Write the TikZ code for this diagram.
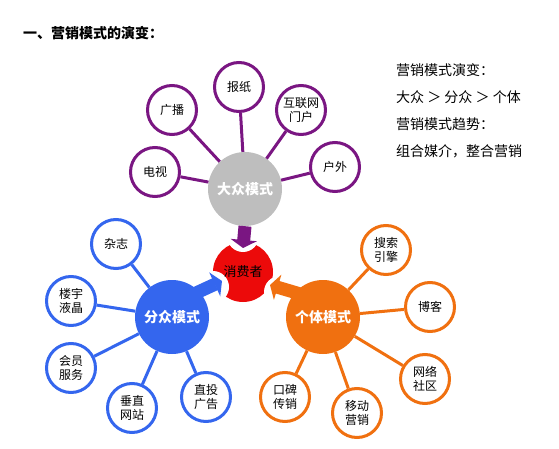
\documentclass[tikz,border=0pt]{standalone}
\usepackage{fontspec}
\newfontfamily\cjk{Noto Sans CJK SC}
\usetikzlibrary{arrows.meta,positioning}

\definecolor{dzpurple}{RGB}{122,22,130}
\definecolor{fzblue}{RGB}{52,102,238}
\definecolor{gtorange}{RGB}{240,112,16}
\definecolor{dzgray}{RGB}{190,190,190}
\definecolor{xfred}{RGB}{236,10,10}

\begin{document}
\begin{tikzpicture}[
    x=1pt, y=-1pt,
    font=\cjk,
    hub/.style={circle, minimum size=74pt, inner sep=0pt, text=white,
        font=\cjk\bfseries\fontsize{14}{16}\selectfont},
    sat/.style={circle, draw, line width=3pt, fill=white, minimum size=49pt,
        inner sep=0pt, align=center, font=\cjk\fontsize{12}{14}\selectfont},
    link/.style={line width=3pt},
    blockarrow/.style={line width=13pt, -{Triangle[length=8pt,width=26pt]}},
    notch/.style={circle, fill=white, minimum size=32pt, inner sep=0pt}
]
\useasboundingbox (0,0) rectangle (559,449);

% Title
\node[anchor=west, inner sep=0pt, font=\cjk\bfseries\fontsize{14}{16}\selectfont] (title) at (23,33) {一、营销模式的演变：};

% Summary text
\node[anchor=north west, inner sep=0pt, align=left, font=\cjk\fontsize{14}{27}\selectfont] (summary) at (396,63)
    {营销模式演变：\\大众 ＞ 分众 ＞ 个体\\营销模式趋势：\\组合媒介，整合营销};

% Consumer
\node[circle, fill=xfred, minimum size=60pt, inner sep=0pt, font=\cjk\fontsize{13}{15}\selectfont] (xiaofei) at (243,272) {};
\node[notch] (notchtop) at (243,236) {};
\node[notch] (notchleft) at (213,287) {};
\node[notch] (notchright) at (280,292) {};
\node[font=\cjk\fontsize{13}{15}\selectfont] (xiaofeilabel) at (xiaofei) {消费者};

% Hubs
\node[hub, fill=dzgray] (dazhong) at (245,189) {大众模式};
\node[hub, fill=fzblue] (fenzhong) at (172,317) {分众模式};
\node[hub, fill=gtorange] (geti) at (323,317) {个体模式};

% Mass media
\node[sat, draw=dzpurple] (dianshi) at (155,172) {电视};
\node[sat, draw=dzpurple] (guangbo) at (172,110) {广播};
\node[sat, draw=dzpurple] (baozhi) at (239,87) {报纸};
\node[sat, draw=dzpurple] (menhu) at (301,110) {互联网\\门户};
\node[sat, draw=dzpurple] (huwai) at (335,167) {户外};

% Segmented media
\node[sat, draw=fzblue] (zazhi) at (116,244) {杂志};
\node[sat, draw=fzblue] (louyu) at (71,301) {楼宇\\液晶};
\node[sat, draw=fzblue] (huiyuan) at (71,368) {会员\\服务};
\node[sat, draw=fzblue] (chuizhi) at (132,408) {垂直\\网站};
\node[sat, draw=fzblue] (zhitou) at (206,397) {直投\\广告};

% Individual media
\node[sat, draw=gtorange] (sousuo) at (386,250) {搜索\\引擎};
\node[sat, draw=gtorange] (boke) at (430,307) {博客};
\node[sat, draw=gtorange] (shequ) at (425,379) {网络\\社区};
\node[sat, draw=gtorange] (yidong) at (357,413) {移动\\营销};
\node[sat, draw=gtorange] (koubei) at (285,397) {口碑\\传销};

% Links
\draw[link, dzpurple] (dazhong) -- (dianshi);
\draw[link, dzpurple] (dazhong) -- (guangbo);
\draw[link, dzpurple] (dazhong) -- (baozhi);
\draw[link, dzpurple] (dazhong) -- (menhu);
\draw[link, dzpurple] (dazhong) -- (huwai);

\draw[link, fzblue] (fenzhong) -- (zazhi);
\draw[link, fzblue] (fenzhong) -- (louyu);
\draw[link, fzblue] (fenzhong) -- (huiyuan);
\draw[link, fzblue] (fenzhong) -- (chuizhi);
\draw[link, fzblue] (fenzhong) -- (zhitou);

\draw[link, gtorange] (geti) -- (sousuo);
\draw[link, gtorange] (geti) -- (boke);
\draw[link, gtorange] (geti) -- (shequ);
\draw[link, gtorange] (geti) -- (yidong);
\draw[link, gtorange] (geti) -- (koubei);

% Arrows into consumer
\coordinate (tiptop) at (243,248);
\coordinate (tipleft) at (222,281);
\coordinate (tipright) at (270,285);
\draw[blockarrow, dzpurple] (dazhong.south) -- (tiptop);
\draw[blockarrow, fzblue] ([shift={(-6,4)}]fenzhong.north east) -- (tipleft);
\draw[blockarrow, gtorange] ([shift={(6,4)}]geti.north west) -- (tipright);

\end{tikzpicture}
\end{document}
